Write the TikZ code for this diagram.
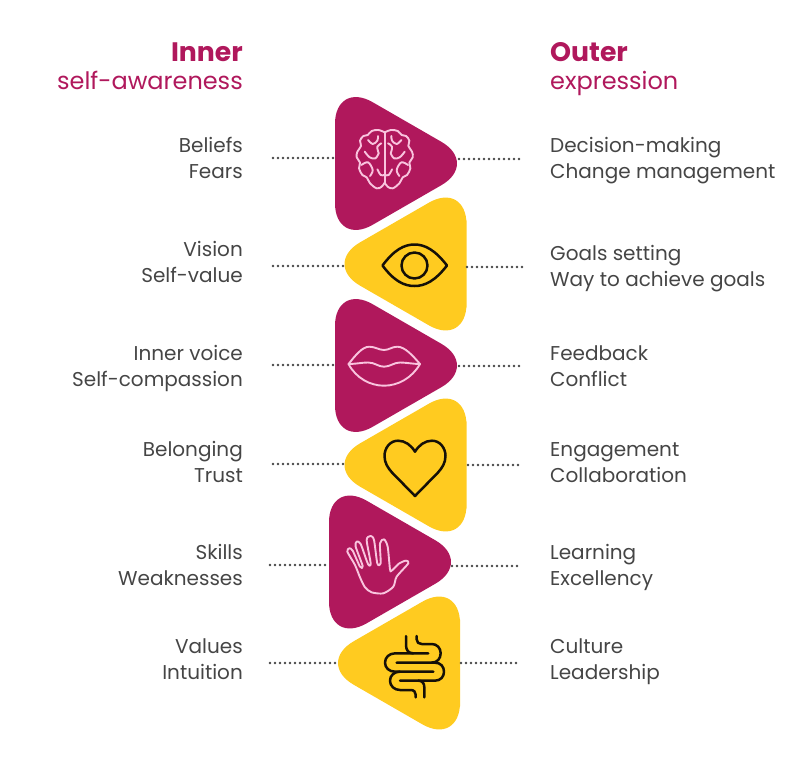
\documentclass[tikz,border=0pt]{standalone}
\usepackage{fontspec}
\setmainfont{Poppins}
\usetikzlibrary{positioning}
\definecolor{berry}{HTML}{B0185C}
\definecolor{sun}{HTML}{FFCB20}
\definecolor{blush}{HTML}{F9C4DE}
\definecolor{ink}{HTML}{151008}
\definecolor{slate}{HTML}{454545}
\tikzset{
    tri/.style={rounded corners=43.4pt},
    dotline/.style={draw=slate, line width=2.6pt, line cap=round, dash pattern=on 0pt off 5pt},
    itemleft/.style={anchor=base east, align=right, inner sep=0pt, text=slate, font=\fontsize{20}{26}\selectfont},
    itemright/.style={anchor=base west, align=left, inner sep=0pt, text=slate, font=\fontsize{20}{26}\selectfont},
    headbold/.style={inner sep=0pt, text=berry, font=\fontsize{26.7}{30}\selectfont\bfseries},
    headthin/.style={inner sep=0pt, text=berry, font=\fontsize{24}{28}\selectfont},
    lightline/.style={draw=blush, line width=1.9pt, line join=round, line cap=round},
    darkline/.style={draw=ink, line width=2.5pt, line join=round, line cap=round}
}
\begin{document}
\begin{tikzpicture}[x=1pt,y=-1pt]
\useasboundingbox (0,0) rectangle (792,768);

% Triangles and the dotted ties
\foreach \id/\col/\edge/\dir/\cy/\dotl/\dotr/\inl/\inr/\yl/\yr in {
    brain/berry/335/1/163.5/273/522/335/459/158/159,
    eye/sun/466.5/-1/264/273/522/344/467/266/267,
    lips/berry/335/1/365.5/273/522/335/459/365/366,
    heart/sun/466.5/-1/465/273/522/345/468/464/465,
    hand/berry/329/1/562/270/520/328/452/565/566,
    gut/sun/460/-1/663/270/520/338/461/663/663}{
    \fill[\col, tri] (\edge,\cy) -- (\edge,\cy-83) -- (\edge+\dir*144,\cy) -- (\edge,\cy+83) -- cycle;
    \coordinate (\id LO) at (\dotl,\yl);
    \coordinate (\id LI) at (\inl,\yl);
    \coordinate (\id RI) at (\inr,\yr);
    \coordinate (\id RO) at (\dotr,\yr);
    \draw[dotline] (\id LO) -- (\id LI);
    \draw[dotline] (\id RI) -- (\id RO);
}

% Headings
\node[headbold, anchor=base east] (innerhead) at (243,61.5) {Inner};
\node[headthin, anchor=base east] (innersub) at (243,89) {self-awareness};
\node[headbold, anchor=base west] (outerhead) at (550,61.5) {Outer};
\node[headthin, anchor=base west] (outersub) at (550,89) {expression};

% Left column
\foreach \id/\y/\txt in {brain/152/{Beliefs\\Fears}, eye/256/{Vision\\Self-value},
    lips/360/{Inner voice\\Self-compassion}, heart/456/{Belonging\\Trust},
    hand/559/{Skills\\Weaknesses}, gut/653/{Values\\Intuition}}{
    \node[itemleft] (\id text) at (243,\y+26) {\txt};
}
% Right column
\foreach \id/\y/\txt in {brain/152/{Decision-making\\Change management}, eye/260/{Goals setting\\Way to achieve goals},
    lips/360/{Feedback\\Conflict}, heart/456/{Engagement\\Collaboration},
    hand/559/{Learning\\Excellency}, gut/653/{Culture\\Leadership}}{
    \node[itemright] (\id note) at (550,\y+26) {\txt};
}

% Brain
\foreach \s in {1,-1}{
\begin{scope}[shift={(384.7,120)},xscale=\s/3,yscale=1/3]
    \draw[lightline] plot[smooth,tension=0.6] coordinates {(0,37) (-19,30) (-39,33) (-51,45) (-64,48) (-74,62) (-71,78) (-82,95) (-84,112) (-74,128) (-77,145) (-67,165) (-54,172) (-44,190) (-24,205) (-9,200) (0,188)};
    \draw[lightline] plot[smooth,tension=0.6] coordinates {(-60,95) (-45,112) (-28,115) (-18,100)};
    \draw[lightline] plot[smooth,tension=0.6] coordinates {(-18,100) (-22,80) (-10,70)};
    \draw[lightline] plot[smooth,tension=0.6] coordinates {(-70,135) (-50,127) (-36,150) (-44,168)};
    \draw[lightline] plot[smooth,tension=0.6] coordinates {(-22,148) (-12,165) (-2,165)};
    \draw[lightline] plot[smooth,tension=0.6] coordinates {(-50,60) (-36,72) (-22,62) (-20,48)};
    \draw[lightline] (0,37) -- (0,188);
\end{scope}
}

% Eye
\draw[darkline] (382.5,265.5) .. controls (394,250) and (404,244.5) .. (414.5,244.5) .. controls (425,244.5) and (435,250) .. (447,265.5) .. controls (435,281) and (425,286) .. (414.5,286) .. controls (404,286) and (394,281) .. (382.5,265.5) -- cycle;
\draw[darkline] (414.5,265.5) circle (13);

% Lips
\draw[lightline] (348.5,364) .. controls (355,356) and (362,346.7) .. (369.3,346.7) .. controls (375,346.7) and (379,350) .. (384,350) .. controls (389,350) and (392,346.7) .. (397.3,346.7) .. controls (405,346.7) and (413,356) .. (420,364) .. controls (412,378) and (398,385.7) .. (384,385.7) .. controls (370,385.7) and (356,378) .. (348.5,364) -- cycle;
\draw[lightline] (348.5,364) .. controls (356,364) and (362,362.5) .. (368,362.5) .. controls (375,362.5) and (378,366.7) .. (384,366.7) .. controls (390,366.7) and (394,362.5) .. (400,362.5) .. controls (406,362.5) and (413,364) .. (420,364);

% Heart
\draw[darkline] (415,451.7) .. controls (411,445) and (405,440.7) .. (398,440.7) .. controls (390,440.7) and (384.5,448) .. (384.5,456) .. controls (384.5,463) and (388,468) .. (392,472.5) -- (415,496) -- (438,472.5) .. controls (442,468) and (445.5,463) .. (445.5,456) .. controls (445.5,448) and (440,440.7) .. (432,440.7) .. controls (425,440.7) and (419,445) .. (415,451.7) -- cycle;

% Hand
\begin{scope}[shift={(340,530)},scale=1/3]
    \draw[lightline] plot[smooth cycle,tension=0.45] coordinates {(22,65) (45,105) (60,142) (75,172) (95,187) (130,190) (160,170) (170,140) (205,100) (198,92) (178,100) (155,122) (150,118) (143,50) (132,28) (120,40) (122,100) (112,100) (102,30) (92,18) (80,30) (92,100) (84,102) (62,42) (50,35) (47,50) (68,108) (60,110) (38,62) (28,55)};
\end{scope}

% Gut
\begin{scope}[shift={(320,490)},scale=1/3]
    \draw[darkline] (290,438) -- (290,448) .. controls (290,457) and (296,462) .. (305,462) -- (335,462) .. controls (352,462) and (362,475) .. (362,490) .. controls (362,505) and (352,518) .. (335,518) -- (230,518);
    \draw[darkline] (258,438) -- (258,465) .. controls (258,480) and (265,490) .. (280,490);
    \draw[darkline] (325,490) -- (225,490) .. controls (207,490) and (195,503) .. (195,518) .. controls (195,533) and (207,545) .. (225,545) -- (340,545);
    \draw[darkline] (335,518) -- (345,518) .. controls (362,518) and (372,530) .. (372,545) .. controls (372,560) and (362,572) .. (345,572) -- (240,572);
    \draw[darkline] (240,545) .. controls (222,545) and (210,557) .. (210,572) .. controls (210,587) and (222,600) .. (240,600) -- (272,600) .. controls (282,600) and (287,606) .. (287,614) -- (287,622);
    \draw[darkline] (295,572) .. controls (307,572) and (313,580) .. (313,592) -- (313,622);
\end{scope}
\end{tikzpicture}
\end{document}
